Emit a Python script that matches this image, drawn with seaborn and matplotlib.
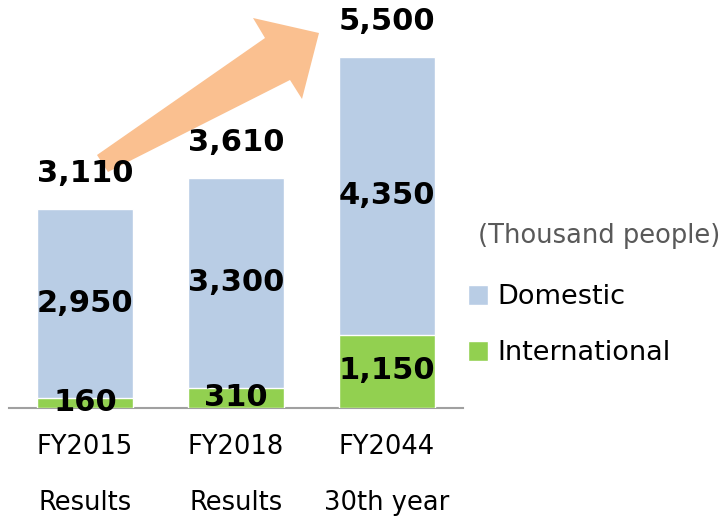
import matplotlib
matplotlib.use("Agg")
import matplotlib.pyplot as plt
import pandas as pd
import seaborn as sns
from matplotlib.patches import Patch, Polygon

# Data (thousand people)
years = ["FY2015", "FY2018", "FY2044"]
periods = ["Results", "Results", "30th year"]
domestic = [2950, 3300, 4350]
international = [160, 310, 1150]
totals = [3110, 3610, 5500]

df = pd.DataFrame({"year": years, "domestic": domestic,
                   "international": international, "total": totals})

blue = "#B9CDE5"
green = "#92D050"
orange = "#FAC090"

sns.set_style("white")
plt.rcParams["font.family"] = ["DejaVu Sans"]
plt.rcParams["text.color"] = "black"
plt.rcParams["xtick.color"] = "black"

fig = plt.figure(figsize=(7.23, 5.2), dpi=100)
ax = fig.add_axes([0.0131, 0.2154, 0.6266, 0.7365])

# stacked bars: total in blue, international on top of it in green
sns.barplot(data=df, x="year", y="total", color=blue, width=0.64,
            saturation=1, ax=ax, zorder=2)
sns.barplot(data=df, x="year", y="international", color=green, width=0.64,
            saturation=1, ax=ax, zorder=3)

ax.set_xlim(-0.5, 2.5)
ax.set_ylim(0, 6000)
ax.set_xlabel("")
ax.set_ylabel("")
ax.set_yticks([])
ax.set_xticks(range(len(years)))
ax.set_xticklabels([f"{y}\n{p}" for y, p in zip(years, periods)],
                   fontsize=18.5, linespacing=2.5)
ax.tick_params(axis="x", length=0, pad=19)
for s in ["top", "right", "left"]:
    ax.spines[s].set_visible(False)
ax.spines["bottom"].set_color("#A0A0A0")
ax.spines["bottom"].set_linewidth(1.5)
ax.patch.set_alpha(0)

# growth arrow (decoration, drawn in figure pixels, y measured from top)
arrow_px = [(97, 155), (265, 38), (253, 18), (319, 33),
            (302, 99), (290, 80), (108, 172)]
arrow = Polygon([(x / 100, (520 - y) / 100) for x, y in arrow_px],
                closed=True, facecolor=orange, edgecolor="none",
                transform=fig.dpi_scale_trans, clip_on=False, zorder=1)
ax.add_patch(arrow)

# labels
for i in range(len(years)):
    ax.text(i, totals[i] + 330, f"{totals[i]:,}", ha="center", va="bottom",
            fontsize=22, fontweight="bold", zorder=5)
    ax.text(i, international[i] + domestic[i] / 2, f"{domestic[i]:,}",
            ha="center", va="center", fontsize=22, fontweight="bold", zorder=5)
    ax.text(i, international[i] / 2 + 10, f"{international[i]:,}",
            ha="center", va="center", fontsize=22, fontweight="bold", zorder=5)

fig.text(0.661, 0.546, "(Thousand people)", fontsize=18.5, color="#595959",
         va="center", ha="left")

handles = [Patch(facecolor=blue, label="Domestic"),
           Patch(facecolor=green, label="International")]
fig.legend(handles=handles, loc="upper left", bbox_to_anchor=(0.613, 0.50),
           frameon=False, fontsize=19.5, handlelength=0.74, handleheight=0.74,
           handletextpad=0.35, labelspacing=1.1)

fig.savefig("out.png", dpi=100)
